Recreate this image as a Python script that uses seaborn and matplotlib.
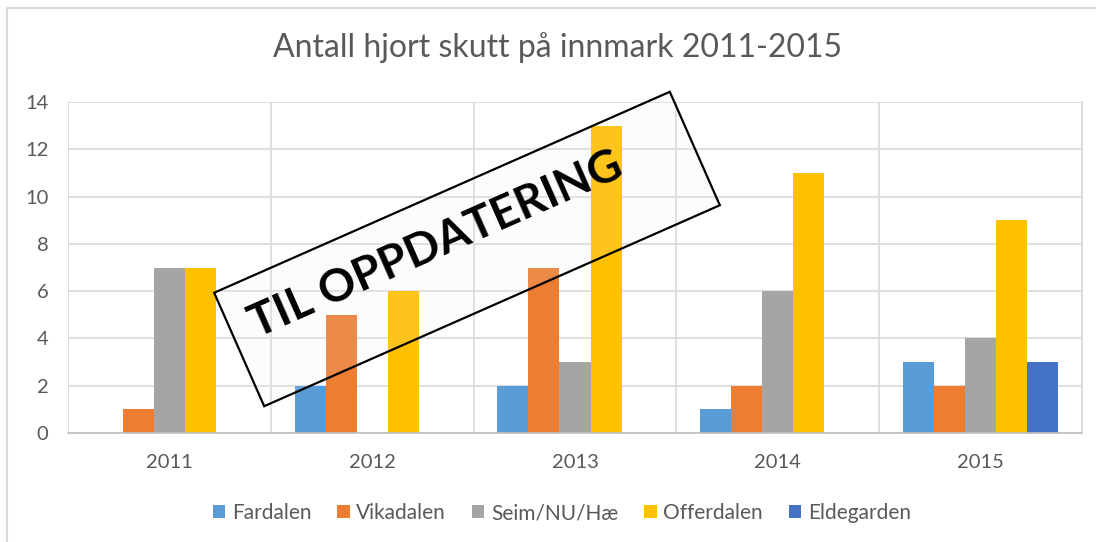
import numpy as np
import pandas as pd
import matplotlib
matplotlib.use("Agg")
import matplotlib.pyplot as plt
import matplotlib.transforms as mtransforms
from matplotlib.patches import Rectangle
import seaborn as sns

# ---- data ----
years = ["2011", "2012", "2013", "2014", "2015"]
series_names = ["Fardalen", "Vikadalen", "Seim/NU/Hæ", "Offerdalen", "Eldegarden"]
fardalen = [0, 2, 2, 1, 3]
vikadalen = [1, 5, 7, 2, 2]
seim = [7, 0, 3, 6, 4]
offerdalen = [7, 6, 13, 11, 9]
eldegarden = [0, 0, 0, 0, 3]
colors = ["#5B9BD5", "#ED7D31", "#A5A5A5", "#FFC000", "#4472C4"]
title = "Antall hjort skutt på innmark 2011-2015"
stamp = "TIL OPPDATERING"
yticks = [0, 2, 4, 6, 8, 10, 12, 14]

values = [fardalen, vikadalen, seim, offerdalen, eldegarden]
rows = []
for name, vals in zip(series_names, values):
    for y, v in zip(years, vals):
        rows.append({"År": y, "Antall": v, "Område": name})
df = pd.DataFrame(rows)

sns.set_theme(style="white")
plt.rcParams["font.family"] = ["Lato", "DejaVu Sans"]

W, H = 1096, 542
fig = plt.figure(figsize=(W / 100, H / 100), dpi=100)
ax = fig.add_axes([68 / W, 1 - 433 / H, (1082 - 68) / W, (433 - 102) / H])

sns.barplot(data=df, x="År", y="Antall", hue="Område", order=years,
            hue_order=series_names, palette=colors, saturation=1,
            width=0.766, ax=ax, legend=False, linewidth=0)

ax.set_xlim(-0.5, len(years) - 0.5)
ax.set_ylim(0, 14)
ax.set_yticks(yticks)
ax.set_xticks(range(len(years)))
ax.set_xticks(np.arange(-0.5, len(years), 1.0), minor=True)
ax.set_xlabel("")
ax.set_ylabel("")
ax.grid(True, axis="y", which="major", color="#D9D9D9", linewidth=1.2)
ax.grid(True, axis="x", which="minor", color="#D9D9D9", linewidth=1.2)
ax.grid(False, axis="x", which="major")
ax.set_axisbelow(True)
for s in ["top", "left"]:
    ax.spines[s].set_visible(False)
ax.spines["right"].set_color("#D9D9D9")
ax.spines["right"].set_linewidth(1.2)
ax.spines["bottom"].set_color("#BFBFBF")
ax.spines["bottom"].set_linewidth(1.2)
ax.tick_params(axis="both", which="both", length=0, labelsize=14.5, labelcolor="#595959")
ax.tick_params(axis="x", pad=15)
ax.tick_params(axis="y", pad=14)

# legend
handles = [Rectangle((0, 0), 1, 1, facecolor=c, edgecolor="none") for c in colors]
fig.legend(handles, series_names, loc="center", bbox_to_anchor=(562 / W, 1 - 513 / H),
           ncol=5, frameon=False, fontsize=15, handlelength=0.58, handleheight=0.58,
           handletextpad=0.33, columnspacing=1.25, labelcolor="#595959")

# title
fig.text(558 / W, 1 - 48 / H, title, ha="center", va="center", fontsize=23, color="#595959")

# chart border (top and left visible)
fig.add_artist(plt.Line2D([7 / W, 7 / W], [0, 1 - 8 / H], transform=fig.transFigure,
                          color="#D9D9D9", linewidth=1.5))
fig.add_artist(plt.Line2D([7 / W, 1], [1 - 8 / H, 1 - 8 / H], transform=fig.transFigure,
                          color="#D9D9D9", linewidth=1.5))

# stamp overlay (pixel coords)
cx, cy = 467, H - 249
bw, bh = 498, 124
ang = 23.8
rot = mtransforms.Affine2D().rotate_deg_around(cx, cy, ang) + mtransforms.IdentityTransform()
rect = Rectangle((cx - bw / 2, cy - bh / 2), bw, bh, facecolor="#E8E8E8", alpha=0.12,
                 edgecolor="none", transform=rot)
fig.add_artist(rect)
rect2 = Rectangle((cx - bw / 2, cy - bh / 2), bw, bh, facecolor="none",
                  edgecolor="black", linewidth=1.6, transform=rot)
fig.add_artist(rect2)
fig.text(436 / W, 1 - 245 / H, stamp, rotation=ang, rotation_mode="anchor",
         ha="center", va="center", fontsize=33, fontweight="bold", color="black")

fig.savefig("out.png", dpi=100)
